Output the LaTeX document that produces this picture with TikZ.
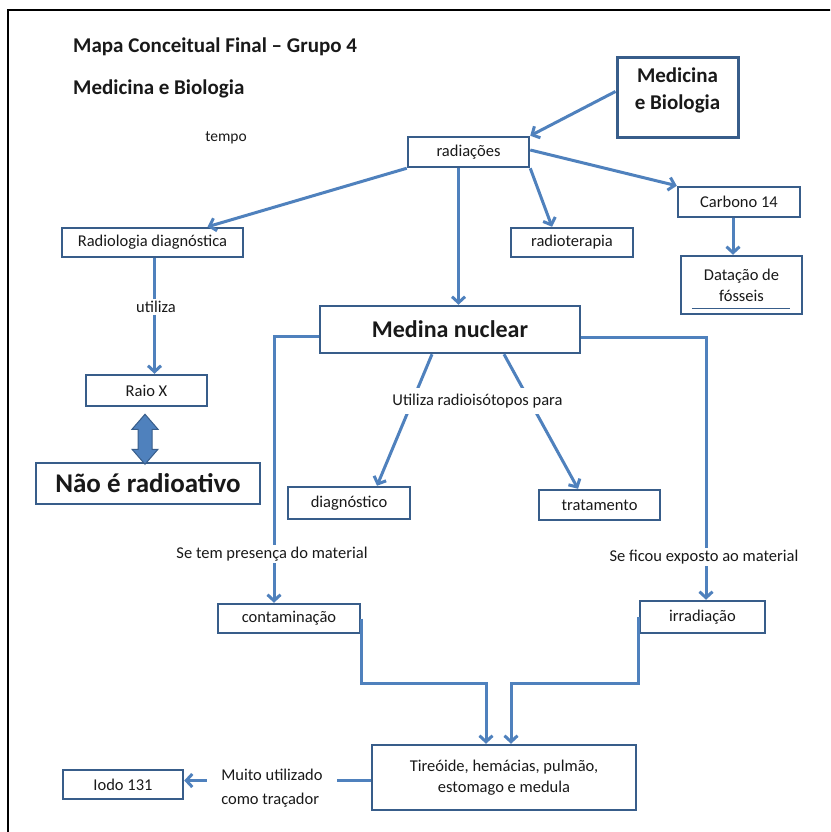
\documentclass[tikz,border=0pt]{standalone}
\usepackage{fontspec}
\setmainfont{Carlito}
\usetikzlibrary{arrows.meta,calc}
\definecolor{lineblue}{RGB}{79,129,189}
\definecolor{boxblue}{RGB}{56,93,138}
\definecolor{txt}{RGB}{25,25,25}
\begin{document}
\begin{tikzpicture}[x=1pt,y=-1pt,
  box/.style={draw=boxblue, line width=2.5pt, fill=white, text=txt,
    font=\fontsize{16.5}{21}\selectfont, align=center, inner sep=0pt},
  arr/.style={draw=lineblue, line width=3pt, -{Straight Barb[length=6pt,width=13pt]}},
  conn/.style={draw=lineblue, line width=3pt},
  lbl/.style={fill=white, text=txt, font=\fontsize{16.5}{21}\selectfont, inner sep=2pt, align=center},
  titletxt/.style={anchor=west, text=txt, inner sep=0pt, font=\bfseries\fontsize{21}{25}\selectfont}]

\useasboundingbox (0,0) rectangle (830,832);
\clip (0,0) rectangle (830,832);
\fill[white] (0,0) rectangle (830,832);
\draw[black, line width=2pt] (8,10) rectangle (860,860);

% titles
\node[titletxt] (title) at (73,47) {Mapa Conceitual Final – Grupo 4};
\node[titletxt] (subtitle) at (73,89) {Medicina e Biologia};
\node[text=txt, font=\fontsize{15.5}{19}\selectfont, inner sep=0pt] (tempo) at (226,138) {tempo};

% boxes
\node[box, minimum width=121pt, minimum height=79pt, line width=3pt] (medbio) at (677.5,97.5) {};
\node[text=txt, align=center, font=\bfseries\fontsize{21}{27}\selectfont] (medbiotxt) at (677.5,90) {Medicina\\e Biologia};
\node[box, minimum width=121pt, minimum height=30pt] (radiacoes) at (468.5,152) {radiações};
\node[box, minimum width=122pt, minimum height=30pt] (carbono) at (739,202) {Carbono 14};
\node[box, minimum width=122pt, minimum height=29pt] (radioterapia) at (572,242.5) {radioterapia};
\node[box, minimum width=121pt, minimum height=58pt] (datacao) at (741.5,285) {Datação de\\fósseis};
\draw[boxblue, line width=1.5pt] ($(datacao.south west)+(12,-7)$) -- ($(datacao.south east)+(-13,-7)$);
\node[box, minimum width=181pt, minimum height=29pt] (radiologia) at (152.5,242.5) {Radiologia diagnóstica};
\node[box, minimum width=121pt, minimum height=31pt] (raiox) at (146.5,390.5) {Raio X};
\node[box, minimum width=224pt, minimum height=41pt, font=\bfseries\fontsize{27}{30}\selectfont] (nao) at (148,483.5) {Não é radioativo};
\node[box, minimum width=260pt, minimum height=47pt, font=\bfseries\fontsize{24}{28}\selectfont] (medina) at (450,329.5) {Medina nuclear};
\node[box, minimum width=122pt, minimum height=32pt] (diag) at (349,503) {diagnóstico};
\node[box, minimum width=121pt, minimum height=30pt] (trat) at (599.5,505) {tratamento};
\node[box, minimum width=142pt, minimum height=29pt] (cont) at (289,618.5) {contaminação};
\node[box, minimum width=125pt, minimum height=32pt] (irr) at (702.5,617) {irradiação};
\node[box, minimum width=264pt, minimum height=65pt] (tire) at (504,777.5) {Tireóide, hemácias, pulmão,\\estomago e medula};
\node[box, minimum width=120pt, minimum height=29pt] (iodo) at (123,784.5) {Iodo 131};

% labels on connectors
\node[lbl] (utiliza) at (156,307) {utiliza};
\node[lbl] (presenca) at (272,554) {Se tem presença do material};
\node[lbl] (exposto) at (704,557) {Se ficou exposto ao material};

% connectors
\draw[arr] ([yshift=6pt]medbio.west) -- (radiacoes.north east);
\draw[arr] (radiacoes.south west) -- ($(radiologia.north)!0.6!(radiologia.north east)$);
\draw[arr] ([xshift=-10pt]radiacoes.south) -- ([xshift=-10pt]radiacoes.south |- medina.north);
\draw[arr] (radiacoes.south east) -- ([xshift=-20pt]radioterapia.north);
\draw[arr] ([yshift=2pt]radiacoes.east) -- (carbono.north west);
\draw[arr] ([xshift=-6pt]carbono.south) -- ([xshift=-6pt]carbono.south |- datacao.north);

\draw[conn] ([xshift=2pt]radiologia.south) -- ([xshift=2pt]radiologia.south |- utiliza.north);
\draw[arr] ([xshift=2pt]radiologia.south |- utiliza.south) -- ([xshift=2pt]radiologia.south |- raiox.north);

\filldraw[fill=lineblue, draw=boxblue, line width=1pt]
  ($(raiox.south)+(-1.5,7)$) -- ++(13,15) -- ++(-6,0) -- ++(0,20) -- ++(6,0)
  -- ++(-13,15) -- ++(-13,-15) -- ++(6,0) -- ++(0,-20) -- ++(-6,0) -- cycle;

\draw[arr] ([xshift=-18pt]medina.south) -- ([xshift=28pt]diag.north);
\draw[arr] ([xshift=54pt]medina.south) -- ([xshift=-21.5pt]trat.north);
\node[lbl, inner xsep=3pt, inner ysep=6pt] (util) at (477.5,401) {Utiliza radioisótopos para};

\draw[conn] ([yshift=-7pt]medina.west) -| ([xshift=2pt]presenca.north);
\draw[arr] ([xshift=2pt]presenca.south) -- ([xshift=2pt]presenca.south |- cont.north);
\draw[conn] ([yshift=-8pt]medina.east) -| ([xshift=2pt]exposto.north);
\draw[arr] ([xshift=2pt]exposto.south) -- ([xshift=2pt]exposto.south |- irr.north);

\draw[arr] (cont.east) -- ++(0,64.5) -| ([xshift=-18pt]tire.north);
\draw[arr] (irr.west) -- ++(0,66) -| ([xshift=7pt]tire.north);

\draw[arr] ([yshift=-3pt]tire.west) -- node[pos=0.53, yshift=-8pt, lbl, align=left, inner xsep=14pt, inner ysep=2pt, font=\fontsize{16.5}{24}\selectfont] (muito) {Muito utilizado\\como traçador} ([yshift=-3pt]tire.west -| iodo.east);
\end{tikzpicture}
\end{document}
